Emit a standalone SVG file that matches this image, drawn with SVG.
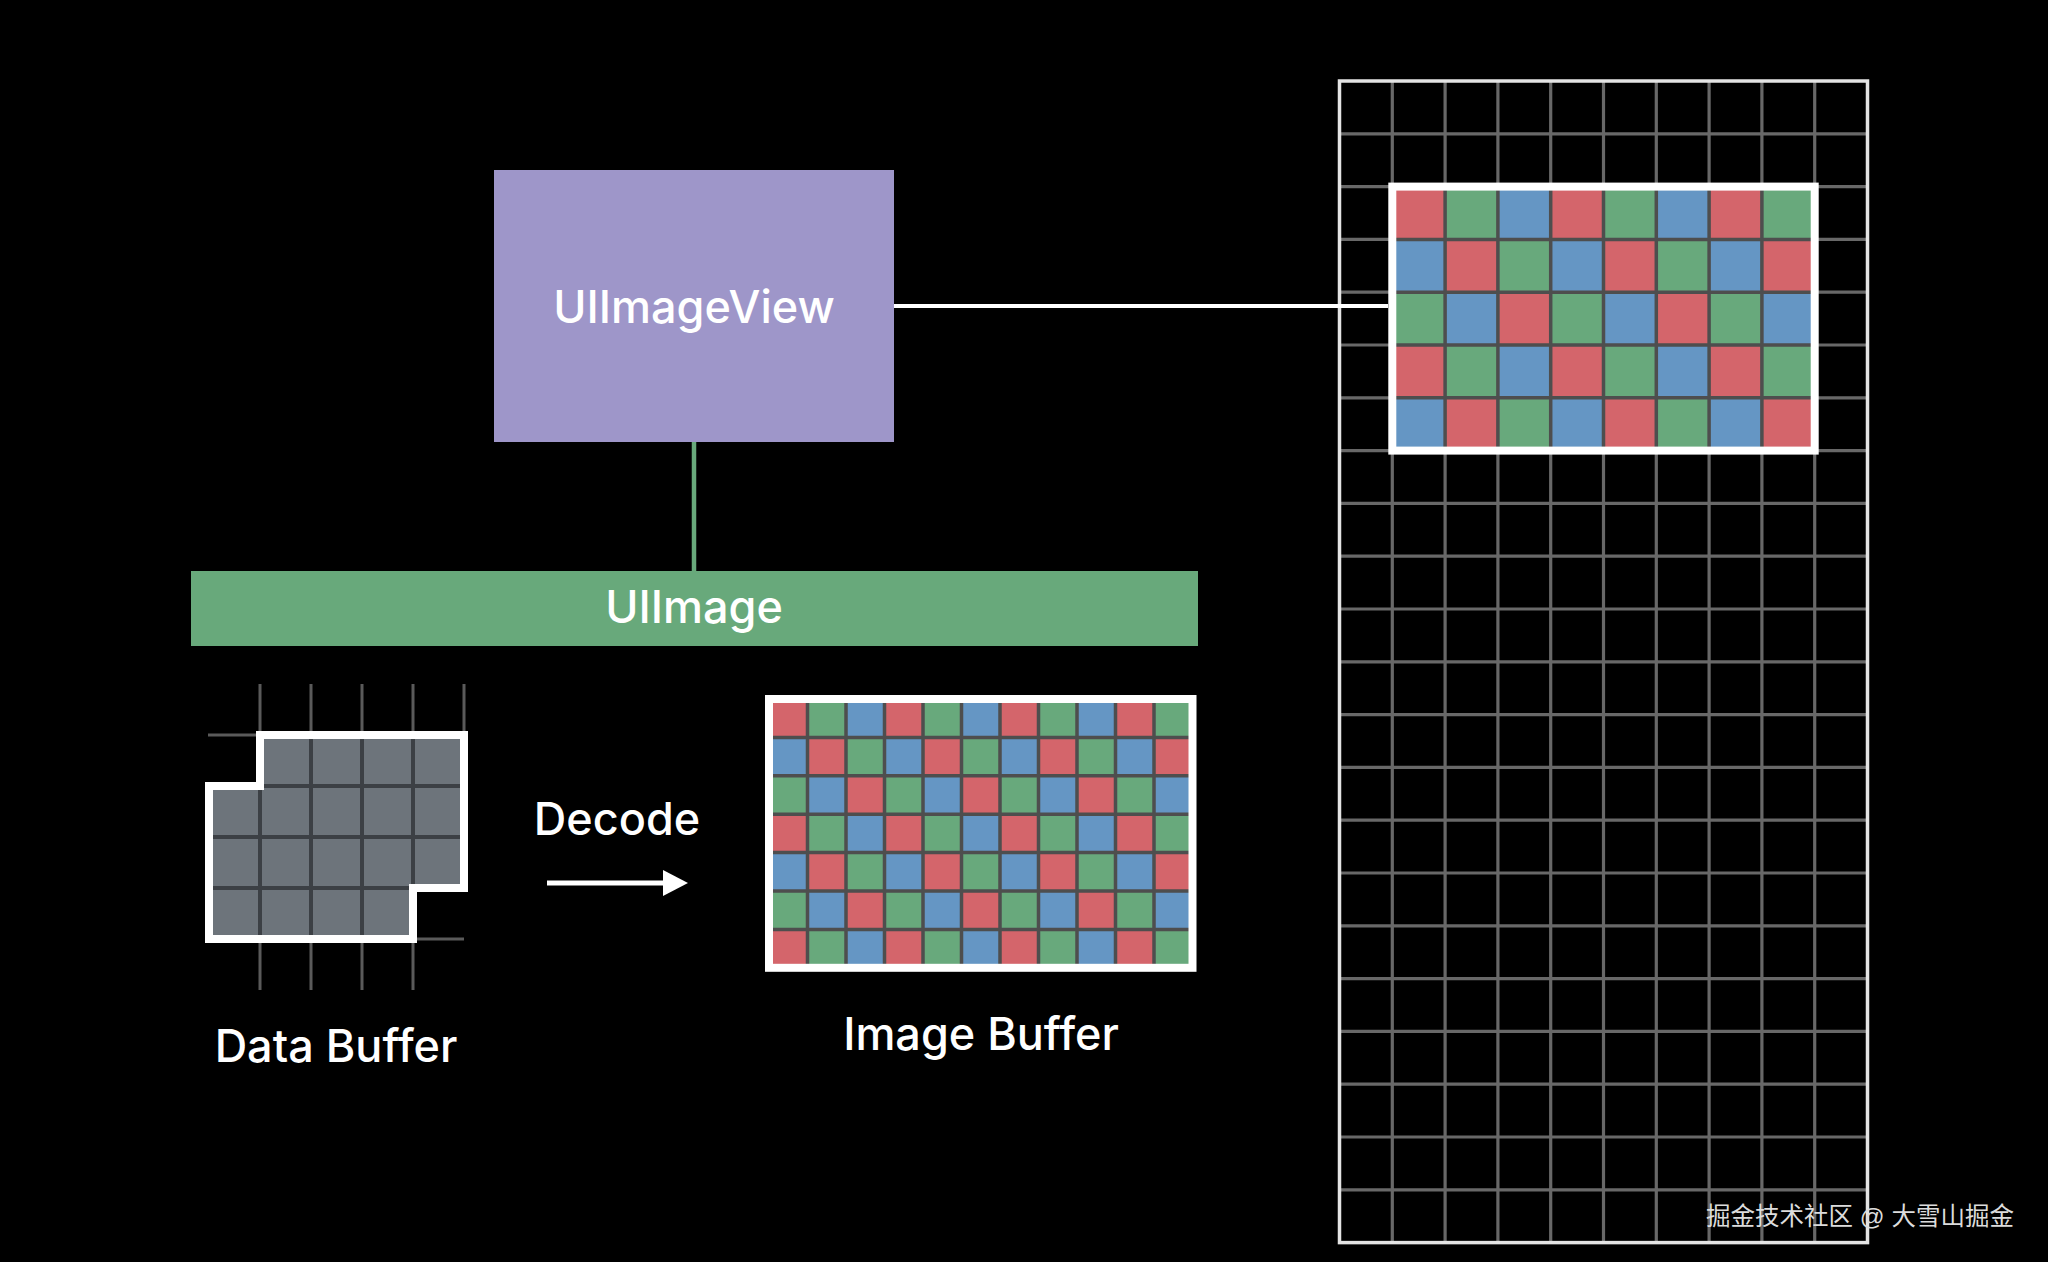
<svg xmlns="http://www.w3.org/2000/svg" width="2048" height="1262" viewBox="0 0 2048 1262">
  <style>
    .lbl { font-family: Inter, "Liberation Sans", Arial, sans-serif; font-weight: 500; fill: #ffffff; text-anchor: middle; }
    .wm { font-family: "Liberation Sans", "Noto Sans CJK SC", sans-serif; fill: #dcdcdc; font-size: 24.5px; }
    .grid { stroke: #686868; stroke-width: 3.2; fill: none; }
    .sep { stroke: #4e4e4e; stroke-width: 3.5; fill: none; }
    .dbsep { stroke: #3c4045; stroke-width: 4; fill: none; }
    .stub { stroke: #5a5a5a; stroke-width: 3; fill: none; }
    .cR { fill: #d4656b; }
    .cG { fill: #68a97c; }
    .cB { fill: #6596c4; }
  </style>
  <defs>
    <pattern id="ibPat" patternUnits="userSpaceOnUse" x="769" y="699" width="115.5" height="115.2">
      <rect class="cR" x="0" y="0" width="38.5" height="38.4"/>
      <rect class="cG" x="38.5" y="0" width="38.5" height="38.4"/>
      <rect class="cB" x="77" y="0" width="38.5" height="38.4"/>
      <rect class="cB" x="0" y="38.4" width="38.5" height="38.4"/>
      <rect class="cR" x="38.5" y="38.4" width="38.5" height="38.4"/>
      <rect class="cG" x="77" y="38.4" width="38.5" height="38.4"/>
      <rect class="cG" x="0" y="76.8" width="38.5" height="38.4"/>
      <rect class="cB" x="38.5" y="76.8" width="38.5" height="38.4"/>
      <rect class="cR" x="77" y="76.8" width="38.5" height="38.4"/>
    </pattern>
    <pattern id="scPat" patternUnits="userSpaceOnUse" x="1392.3" y="186.6" width="158.4" height="158.4">
      <rect class="cR" x="0" y="0" width="52.8" height="52.8"/>
      <rect class="cG" x="52.8" y="0" width="52.8" height="52.8"/>
      <rect class="cB" x="105.6" y="0" width="52.8" height="52.8"/>
      <rect class="cB" x="0" y="52.8" width="52.8" height="52.8"/>
      <rect class="cR" x="52.8" y="52.8" width="52.8" height="52.8"/>
      <rect class="cG" x="105.6" y="52.8" width="52.8" height="52.8"/>
      <rect class="cG" x="0" y="105.6" width="52.8" height="52.8"/>
      <rect class="cB" x="52.8" y="105.6" width="52.8" height="52.8"/>
      <rect class="cR" x="105.6" y="105.6" width="52.8" height="52.8"/>
    </pattern>
    <marker id="arrowHead" markerUnits="userSpaceOnUse" markerWidth="25" markerHeight="26" viewBox="0 0 25 26" refX="9" refY="13" orient="auto">
      <path d="M0,0 L25,13 L0,26 Z" fill="#ffffff"/>
    </marker>
  </defs>

  <rect x="0" y="0" width="2048" height="1262" fill="#000000"/>

  <!-- Screen (big grid) -->
  <g id="node-screen">
    <path class="grid" d="M1392.3,81V1242.6M1445.1,81V1242.6M1497.9,81V1242.6M1550.7,81V1242.6M1603.5,81V1242.6M1656.3,81V1242.6M1709.1,81V1242.6M1761.9,81V1242.6M1814.7,81V1242.6
      M1339.5,133.8H1867.5M1339.5,186.6H1867.5M1339.5,239.4H1867.5M1339.5,292.2H1867.5M1339.5,345H1867.5M1339.5,397.8H1867.5M1339.5,450.6H1867.5M1339.5,503.4H1867.5M1339.5,556.2H1867.5M1339.5,609H1867.5M1339.5,661.8H1867.5M1339.5,714.6H1867.5M1339.5,767.4H1867.5M1339.5,820.2H1867.5M1339.5,873H1867.5M1339.5,925.8H1867.5M1339.5,978.6H1867.5M1339.5,1031.4H1867.5M1339.5,1084.2H1867.5M1339.5,1137H1867.5M1339.5,1189.8H1867.5"/>
    <rect x="1339.5" y="81" width="528" height="1161.6" fill="none" stroke="#e4e4e4" stroke-width="3.5"/>
    <rect x="1392.3" y="186.6" width="422.4" height="264" fill="url(#scPat)"/>
    <path class="sep" d="M1445.1,186.6V450.6M1497.9,186.6V450.6M1550.7,186.6V450.6M1603.5,186.6V450.6M1656.3,186.6V450.6M1709.1,186.6V450.6M1761.9,186.6V450.6
      M1392.3,239.4H1814.7M1392.3,292.2H1814.7M1392.3,345H1814.7M1392.3,397.8H1814.7"/>
    <rect x="1392.3" y="186.6" width="422.4" height="264" fill="none" stroke="#ffffff" stroke-width="8"/>
  </g>

  <!-- Connectors -->
  <g id="connectors">
    <line x1="893" y1="306" x2="1388" y2="306" stroke="#ffffff" stroke-width="4"/>
    <line x1="694" y1="441" x2="694" y2="571" stroke="#68a97b" stroke-width="4.5"/>
    <line x1="547" y1="883" x2="672" y2="883" stroke="#ffffff" stroke-width="5" marker-end="url(#arrowHead)"/>
  </g>

  <!-- UIImageView -->
  <g id="node-uiimageview">
    <rect x="494" y="170" width="400" height="272" fill="#9e96c9"/>
    <text class="lbl" x="694" y="323" font-size="45">UIImageView</text>
  </g>

  <!-- UIImage -->
  <g id="node-uiimage">
    <rect x="191" y="571" width="1007" height="75" fill="#68a97b"/>
    <text class="lbl" x="694" y="623" font-size="45">UIImage</text>
  </g>

  <!-- Data Buffer -->
  <g id="node-databuffer">
    <path class="stub" d="M260,684V735M311,684V735M362,684V735M413,684V735M464,684V735M208,735H260
      M260,939V990M311,939V990M362,939V990M413,939V990M413,939H464"/>
    <path d="M260,735H464V888H413V939H209V786H260Z" fill="#6d747b"/>
    <path class="dbsep" d="M311,735V939M362,735V939M413,735V888M260,786V939M209,786H464M209,837H464M209,888H413"/>
    <path d="M260,735H464V888H413V939H209V786H260Z" fill="none" stroke="#ffffff" stroke-width="8" stroke-linejoin="miter"/>
    <text class="lbl" x="336" y="1062" font-size="45">Data Buffer</text>
  </g>

  <!-- Decode label -->
  <g id="label-decode">
    <text class="lbl" x="617" y="835" font-size="45">Decode</text>
  </g>

  <!-- Image Buffer -->
  <g id="node-imagebuffer">
    <rect x="769" y="699" width="423.5" height="268.8" fill="url(#ibPat)"/>
    <path class="sep" d="M807.5,699V967.8M846,699V967.8M884.5,699V967.8M923,699V967.8M961.5,699V967.8M1000,699V967.8M1038.5,699V967.8M1077,699V967.8M1115.5,699V967.8M1154,699V967.8
      M769,737.4H1192.5M769,775.8H1192.5M769,814.2H1192.5M769,852.6H1192.5M769,891H1192.5M769,929.4H1192.5"/>
    <rect x="769" y="699" width="423.5" height="268.8" fill="none" stroke="#ffffff" stroke-width="8"/>
    <text class="lbl" x="981" y="1050" font-size="45">Image Buffer</text>
  </g>

  <!-- Watermark -->
  <text class="wm" x="1706" y="1225">掘金技术社区 @ 大雪山掘金</text>
</svg>
